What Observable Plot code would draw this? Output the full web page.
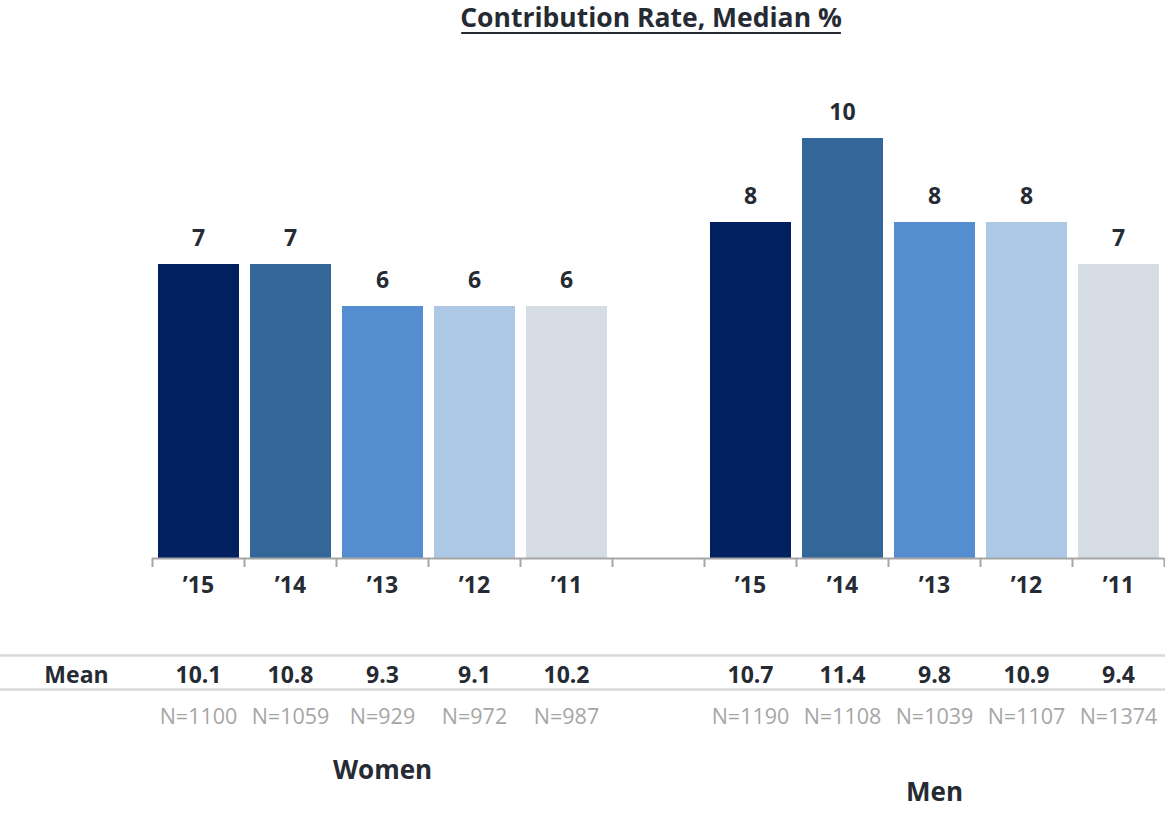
<!DOCTYPE html>
<html>
<head>
<meta charset="utf-8">
<script src="https://cdn.jsdelivr.net/npm/d3@7"></script>
<script src="https://cdn.jsdelivr.net/npm/@observablehq/plot@0.6"></script>
<style>
  html, body { margin: 0; padding: 0; background: #fff; }
  #chart svg { display: block; }
</style>
</head>
<body>
<div id="chart"></div>
<script>
const title = "Contribution Rate, Median %";
const groups = ["Women", "Men"];
const years = ["\u201915", "\u201914", "\u201913", "\u201912", "\u201911"];
const yearColors = ["#002060", "#336699", "#558ED0", "#ADC8E4", "#D6DCE4"];
const womenMedian = [7, 7, 6, 6, 6];
const menMedian = [8, 10, 8, 8, 7];
const womenMean = [10.1, 10.8, 9.3, 9.1, 10.2];
const menMean = [10.7, 11.4, 9.8, 10.9, 9.4];
const womenN = [1100, 1059, 929, 972, 987];
const menN = [1190, 1108, 1039, 1107, 1374];
const rowLabels = ["Mean"];

const medians = [womenMedian, menMedian];
const means = [womenMean, menMean];
const ns = [womenN, menN];
const slotsPerGroup = years.length + 1; // one empty slot between groups

const rows = [];
groups.forEach((g, gi) => {
  years.forEach((yr, i) => {
    rows.push({
      group: g,
      year: yr,
      slot: gi * slotsPerGroup + i,
      median: medians[gi][i],
      mean: means[gi][i],
      n: ns[gi][i]
    });
  });
});
const totalSlots = groups.length * slotsPerGroup - 1;
const tickPositions = d3.range(0, totalSlots + 1);
const groupLabels = groups.map((g, gi) => ({ group: g, x: gi * slotsPerGroup + years.length / 2, gi }));

const FONT = "'Open Sans', sans-serif";
const TEXT = "#262B33";

const chart = Plot.plot({
  width: 1165,
  height: 813,
  marginLeft: 0,
  marginRight: 0,
  marginTop: 0,
  marginBottom: 0,
  style: { fontFamily: FONT, background: "#fff" },
  x: { type: "linear", domain: [0, totalSlots], range: [152, 1164], axis: null },
  y: { type: "linear", domain: [0, 10], range: [558, 138], axis: null },
  color: { domain: years, range: yearColors },
  marks: [
    // title
    Plot.text([title], {
      frameAnchor: "top", lineAnchor: "middle", dx: 68, dy: 18, fontSize: 26.5, fontWeight: "bold",
      fill: TEXT, ariaLabel: "title"
    }),
    // bars
    Plot.rect(rows, {
      x1: "slot", x2: d => d.slot + 1, y1: () => 0, y2: "median", fill: "year",
      insetLeft: 6, insetRight: 5
    }),
    // bar value labels
    Plot.text(rows, {
      x: d => d.slot + 0.5, y: "median", text: d => String(d.median),
      dy: -26, fontSize: 23, fontWeight: "bold", fill: TEXT
    }),
    // axis line
    Plot.ruleY([0], { x1: () => 0, x2: () => totalSlots, stroke: "#A6A6A6", strokeWidth: 2 }),
    // axis ticks at slot boundaries
    Plot.ruleX(tickPositions, { x: d => d, y1: () => 0, y2: () => 0, insetBottom: -9, stroke: "#A6A6A6", strokeWidth: 2 }),
    // year labels
    Plot.text(rows, {
      x: d => d.slot + 0.5, y: () => 0, text: "year",
      dy: 27, fontSize: 23, fontWeight: "bold", fill: TEXT
    }),
    // mean row rules
    Plot.ruleY([0], { dy: 97, stroke: "#D9D9D9", strokeWidth: 2.5 }),
    Plot.ruleY([0], { dy: 131, stroke: "#D9D9D9", strokeWidth: 2.5 }),
    // row label
    Plot.text(rowLabels, {
      frameAnchor: "left", textAnchor: "middle", y: () => 0, dx: 76, dy: 117, text: d => d,
      fontSize: 23, fontWeight: "bold", fill: TEXT
    }),
    // mean values
    Plot.text(rows, {
      x: d => d.slot + 0.5, y: () => 0, text: d => d.mean.toFixed(1),
      dy: 117, fontSize: 23, fontWeight: "bold", fill: TEXT
    }),
    // N values
    Plot.text(rows, {
      x: d => d.slot + 0.5, y: () => 0, text: d => "N=" + d.n,
      dy: 159, fontSize: 21.5, fill: "#A6A6A6"
    }),
    // group labels
    Plot.text(groupLabels.filter(d => d.gi === 0), {
      x: "x", y: () => 0, text: "group",
      dy: 212, fontSize: 26, fontWeight: "bold", fill: TEXT
    }),
    Plot.text(groupLabels.filter(d => d.gi === 1), {
      x: "x", y: () => 0, text: "group",
      dy: 234, fontSize: 26, fontWeight: "bold", fill: TEXT
    })
  ]
});

document.getElementById("chart").appendChild(chart);
// underline the title
const titleNode = Array.from(chart.querySelectorAll("text")).find(n => n.textContent === title);
if (titleNode) {
  const tb = titleNode.getBoundingClientRect();
  const sb = chart.getBoundingClientRect();
  const x1 = tb.left - sb.left + 1, x2 = tb.right - sb.left - 1;
  const yU = 33;
  const line = document.createElementNS("http://www.w3.org/2000/svg", "line");
  line.setAttribute("x1", x1); line.setAttribute("x2", x2);
  line.setAttribute("y1", yU); line.setAttribute("y2", yU);
  line.setAttribute("stroke", TEXT); line.setAttribute("stroke-width", 2);
  chart.appendChild(line);
}
</script>
</body>
</html>
